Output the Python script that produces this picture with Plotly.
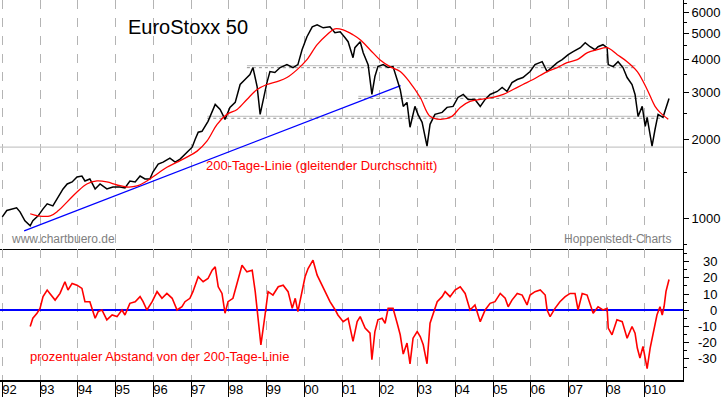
import plotly.graph_objects as go

# ---------------- data ----------------
price_dates = [1992.00, 1992.12, 1992.38, 1992.47, 1992.60, 1992.74, 1992.81, 1992.95, 1993.08, 1993.19,
               1993.34, 1993.48, 1993.61, 1993.72, 1993.85, 1993.98, 1994.11, 1994.19, 1994.32, 1994.46,
               1994.59, 1994.77, 1994.93, 1995.12, 1995.25, 1995.38, 1995.52, 1995.65, 1995.78, 1995.91,
               1995.99, 1996.13, 1996.26, 1996.44, 1996.58, 1996.71, 1996.89, 1997.03, 1997.11, 1997.19,
               1997.29, 1997.37, 1997.45, 1997.64, 1997.77, 1997.90, 1998.03, 1998.17, 1998.30, 1998.43,
               1998.56, 1998.64, 1998.75, 1998.83, 1998.91, 1999.01, 1999.09, 1999.22, 1999.36, 1999.54,
               1999.70, 1999.83, 1999.94, 2000.07, 2000.21, 2000.34, 2000.50, 2000.68, 2000.81, 2000.95,
               2001.08, 2001.16, 2001.29, 2001.34, 2001.48, 2001.56, 2001.69, 2001.79, 2001.87, 2001.95,
               2002.09, 2002.22, 2002.35, 2002.46, 2002.54, 2002.62, 2002.72, 2002.80, 2002.93, 2003.01,
               2003.12, 2003.25, 2003.33, 2003.46, 2003.65, 2003.78, 2003.94, 2004.07, 2004.21, 2004.34,
               2004.52, 2004.66, 2004.79, 2004.92, 2005.11, 2005.24, 2005.37, 2005.50, 2005.64, 2005.79,
               2005.98, 2006.11, 2006.30, 2006.43, 2006.56, 2006.70, 2006.83, 2006.99, 2007.12, 2007.31,
               2007.44, 2007.57, 2007.70, 2007.78, 2007.91, 2008.02, 2008.05, 2008.18, 2008.31, 2008.44,
               2008.55, 2008.68, 2008.76, 2008.84, 2008.95, 2009.03, 2009.08, 2009.21, 2009.29, 2009.37,
               2009.50, 2009.58, 2009.66]
price_values = [1017, 1075, 1100, 1062, 983, 941, 983, 1026, 1090, 1139,
                1119, 1210, 1297, 1354, 1378, 1438, 1451, 1390, 1414, 1297,
                1354, 1297, 1319, 1319, 1308, 1390, 1378, 1451, 1414, 1414,
                1502, 1610, 1638, 1696, 1638, 1681, 1786, 1865, 1999, 2124,
                2142, 2237, 2336, 2707, 2591, 2376, 2637, 2754, 3218, 3360,
                3509, 3729, 3162, 2481, 2826, 3273, 3602, 3571, 3729, 3827,
                3729, 3827, 4357, 4876, 5316, 5409, 5270, 5316, 5047, 5091,
                4834, 4670, 4064, 4433, 4670, 4245, 3827, 2951, 3449, 3761,
                3827, 3729, 3761, 3360, 3082, 2660, 2754, 2218, 2660, 2481,
                2316, 1881, 2276, 2481, 2525, 2637, 2660, 2875, 2951, 2826,
                2826, 2660, 2826, 2951, 3029, 3135, 3029, 3273, 3360, 3419,
                3602, 3827, 3926, 3602, 3729, 3894, 3995, 4172, 4282, 4433,
                4629, 4471, 4357, 4471, 4550, 4433, 3827, 3761, 3926, 3729,
                3419, 3218, 2951, 2439, 2660, 2237, 2418, 1881, 2180, 2481,
                2418, 2637, 2851]

ma_dates = [1992.74, 1992.95, 1993.27, 1993.48, 1993.72, 1993.98, 1994.24, 1994.51, 1994.77, 1995.04,
            1995.30, 1995.57, 1995.83, 1996.10, 1996.36, 1996.63, 1996.89, 1997.16, 1997.42, 1997.69,
            1997.95, 1998.22, 1998.48, 1998.75, 1999.01, 1999.28, 1999.54, 1999.81, 2000.07, 2000.34,
            2000.60, 2000.81, 2001.03, 2001.29, 2001.48, 2001.74, 2002.00, 2002.27, 2002.54, 2002.80,
            2003.07, 2003.33, 2003.60, 2003.91, 2004.13, 2004.39, 2004.66, 2005.00, 2005.27, 2005.53,
            2005.79, 2006.06, 2006.43, 2006.70, 2006.96, 2007.23, 2007.50, 2007.76, 2008.02, 2008.29,
            2008.55, 2008.82, 2009.08, 2009.29, 2009.42, 2009.64]
ma_values = [1045, 1026, 1026, 1072, 1159, 1263, 1354, 1390, 1378, 1342,
             1319, 1331, 1390, 1477, 1567, 1638, 1710, 1802, 1966, 2276,
             2481, 2591, 2826, 3082, 3218, 3302, 3419, 3663, 3995, 4550,
             4961, 5227, 5180, 4961, 4750, 4357, 3995, 3761, 3602, 3273,
             2875, 2439, 2376, 2439, 2637, 2777, 2826, 2875, 2951, 3082,
             3218, 3360, 3602, 3729, 3894, 3995, 4245, 4357, 4433, 4172,
             3926, 3602, 3082, 2660, 2525, 2376]

dev_dates = [1992.74, 1992.81, 1992.92, 1993.00, 1993.08, 1993.19, 1993.26, 1993.40, 1993.53, 1993.66,
             1993.74, 1993.85, 1993.98, 1994.11, 1994.19, 1994.32, 1994.46, 1994.54, 1994.64, 1994.77,
             1994.91, 1995.04, 1995.17, 1995.25, 1995.38, 1995.52, 1995.65, 1995.73, 1995.83, 1995.97,
             1996.10, 1996.23, 1996.36, 1996.50, 1996.63, 1996.76, 1996.84, 1996.97, 1997.05, 1997.19,
             1997.32, 1997.45, 1997.56, 1997.64, 1997.72, 1997.82, 1997.90, 1997.98, 1998.11, 1998.25,
             1998.35, 1998.48, 1998.62, 1998.70, 1998.75, 1998.85, 1998.96, 1999.04, 1999.17, 1999.31,
             1999.44, 1999.57, 1999.68, 1999.76, 1999.83, 1999.94, 2000.02, 2000.10, 2000.23, 2000.34,
             2000.42, 2000.55, 2000.68, 2000.82, 2000.89, 2001.03, 2001.16, 2001.29, 2001.40, 2001.48,
             2001.61, 2001.74, 2001.79, 2001.87, 2001.95, 2002.06, 2002.14, 2002.22, 2002.35, 2002.46,
             2002.54, 2002.62, 2002.72, 2002.80, 2002.88, 2002.99, 2003.07, 2003.15, 2003.25, 2003.33,
             2003.41, 2003.52, 2003.65, 2003.73, 2003.86, 2003.99, 2004.13, 2004.26, 2004.39, 2004.52,
             2004.66, 2004.79, 2004.92, 2005.05, 2005.19, 2005.32, 2005.40, 2005.50, 2005.64, 2005.77,
             2005.90, 2005.98, 2006.11, 2006.25, 2006.38, 2006.43, 2006.51, 2006.64, 2006.77, 2006.91,
             2007.04, 2007.17, 2007.25, 2007.36, 2007.49, 2007.57, 2007.65, 2007.78, 2007.91, 2008.02,
             2008.05, 2008.15, 2008.28, 2008.42, 2008.55, 2008.68, 2008.76, 2008.82, 2008.89, 2008.97,
             2009.08, 2009.16, 2009.24, 2009.34, 2009.42, 2009.48, 2009.53, 2009.58, 2009.66]
dev_values = [-10.0, -4.9, -1.8, 1.2, 8.4, 12.5, 10.4, 6.3, 10.4, 17.6,
              12.5, 16.6, 15.5, 13.5, 5.3, 5.3, -4.9, -0.8, 0.2, -5.9,
              -2.9, -3.9, 0.2, -2.9, 4.3, 5.3, 8.4, 5.3, 0.2, 5.3,
              11.5, 7.4, 10.4, 7.4, 0.2, 2.2, 5.3, 7.4, 11.5, 20.7,
              17.6, 19.6, 24.7, 26.8, 14.5, 10.4, -1.8, 5.3, 7.4, 19.6,
              27.8, 23.7, 24.7, 11.5, 0.2, -21.3, -2.9, 11.5, 9.4, 14.5,
              15.5, 11.5, 1.2, 7.4, -0.8, 11.5, 20.7, 25.8, 30.9, 21.7,
              17.6, 11.5, 5.3, 0.2, -2.9, -7.0, -4.9, -19.2, -7.0, -3.9,
              -11.0, -14.1, -30.5, -13.1, -5.9, -4.9, -8.0, 1.2, 1.2, -8.0,
              -15.1, -27.0, -20.2, -33.0, -17.2, -13.1, -16.2, -21.3, -33.0, -8.0,
              -2.9, 5.3, 8.4, 11.5, 8.4, 12.5, 14.5, 10.4, 0.2, 3.3,
              -7.0, 0.2, 4.3, 5.3, 10.4, 7.4, 2.2, 6.3, 10.4, 9.4,
              3.3, 9.4, 11.5, 12.5, 9.4, 0.2, -3.9, 1.2, 5.3, 8.4,
              10.4, 10.4, 0.2, 10.4, 9.4, 4.3, -1.8, 2.2, 0.2, 1.2,
              -11.0, -15.1, -5.9, -7.0, -17.2, -10.0, -14.1, -23.3, -29.4, -22.3,
              -36.0, -23.3, -13.1, -2.9, 2.2, -2.9, 2.5, 11.7, 19.0]

trend_dates = [1992.58, 2002.55]
trend_values = [901, 3188]

support_level_full = 1865
support_levels = [3790, 2900, 2440]
support_starts = [1998.48, 2001.43, 1997.43]
support_ends = [2008.77, 2009.10, 2009.42]

year_ticks = list(range(1992, 2010))
year_labels = ['92', '93', '94', '95', '96', '97', '98', '99', '00', '01',
               '02', '03', '04', '05', '06', '07', '08', '010']

price_ticks = [1000, 2000, 3000, 4000, 5000, 6000]
price_minor = [800, 1500, 2500, 3500, 4500, 5500, 6500]
dev_ticks = [30, 20, 10, 0, -10, -20, -30]
dev_minor = [35, 25, 15, 5, -5, -15, -25, -35]

X_RANGE = [1991.94, 2010.03]

FONT = "Liberation Sans, Arial, sans-serif"
RED = "#ff0000"
BLUE = "#0000ff"
GRID = "#b4b4b4"

fig = go.Figure()

# support lines (top panel)
fig.add_trace(go.Scatter(x=X_RANGE, y=[support_level_full] * 2, mode="lines",
                         line=dict(color="#c8c8c8", width=1.2), hoverinfo="skip", showlegend=False))
for lvl, s, e in zip(support_levels, support_starts, support_ends):
    fig.add_trace(go.Scatter(x=[s, e], y=[lvl, lvl], mode="lines",
                             line=dict(color="#c8c8c8", width=1.2), hoverinfo="skip", showlegend=False))
    fig.add_trace(go.Scatter(x=[s, e], y=[lvl * 0.983, lvl * 0.983], mode="lines",
                             line=dict(color="#909090", width=1, dash="dot"), hoverinfo="skip", showlegend=False))

# blue trend line
fig.add_trace(go.Scatter(x=trend_dates, y=trend_values, mode="lines",
                         line=dict(color=BLUE, width=1.3), hoverinfo="skip", showlegend=False))
# price
fig.add_trace(go.Scatter(x=price_dates, y=price_values, mode="lines",
                         line=dict(color="black", width=1.5), showlegend=False))
# 200-day line
fig.add_trace(go.Scatter(x=ma_dates, y=ma_values, mode="lines", line_shape="spline",
                         line=dict(color=RED, width=1.3), showlegend=False))
# deviation panel
fig.add_trace(go.Scatter(x=dev_dates, y=dev_values, mode="lines", xaxis="x2", yaxis="y2",
                         line=dict(color=RED, width=1.6), showlegend=False))
# dummy trace for the label axis
fig.add_trace(go.Scatter(x=[year_ticks[0]], y=[0], mode="markers", xaxis="x3", yaxis="y2",
                         marker=dict(opacity=0), hoverinfo="skip", showlegend=False))

split = 132 / 382

fig.update_layout(
    width=723, height=397,
    margin=dict(l=0, r=40, t=0, b=15),
    paper_bgcolor="white", plot_bgcolor="white",
    font=dict(family=FONT, size=13, color="black"),
    hovermode=False,
    xaxis=dict(domain=[0, 1], anchor="y", range=X_RANGE, tickvals=year_ticks,
               showticklabels=False, ticks="", showgrid=True, gridcolor=GRID, griddash="dash",
               gridwidth=1, showline=True, linecolor="black", linewidth=1.5, zeroline=False),
    yaxis=dict(domain=[split, 1], anchor="x", type="log", range=[2.887, 3.827], side="right",
               tickvals=price_ticks, ticktext=[str(v) for v in price_ticks],
               ticks="outside", ticklen=5, tickcolor="black", showgrid=False, zeroline=False,
               showline=True, linecolor="black", linewidth=1,
               minor=dict(tickvals=price_minor, ticks="outside", ticklen=3, tickcolor="black", showgrid=False),
               tickfont=dict(size=13)),
    xaxis2=dict(domain=[0, 1], anchor="y2", range=X_RANGE, tickvals=year_ticks,
                showticklabels=False, ticks="outside", ticklen=15, tickcolor="black",
                showgrid=True, gridcolor=GRID, griddash="dash", gridwidth=1,
                showline=True, linecolor="black", linewidth=1.5, zeroline=False),
    xaxis3=dict(overlaying="x2", anchor="y2", side="bottom", range=X_RANGE, tickvals=year_ticks,
                ticktext=year_labels, ticks="", ticklabelposition="outside right",
                showgrid=False, showline=False, zeroline=False, tickfont=dict(size=13)),
    yaxis2=dict(domain=[0, split], anchor="x2", range=[-43, 38], side="right",
                tickvals=dev_ticks, showticklabels=False, ticks="outside", ticklen=5,
                tickcolor="black", showgrid=False, zeroline=True, zerolinecolor=BLUE,
                zerolinewidth=2, showline=True, linecolor="black", linewidth=1,
                minor=dict(tickvals=dev_minor, ticks="outside", ticklen=3, tickcolor="black", showgrid=False)),
)

annotations = [
    dict(text="EuroStoxx 50", x=188 / 683, y=1 - 27.5 / 382, xref="paper", yref="paper",
         xanchor="center", yanchor="middle", showarrow=False, font=dict(size=20, color="black")),
    dict(text="200-Tage-Linie (gleitender Durchschnitt)", x=204 / 683, y=1 - 166.5 / 382,
         xref="paper", yref="paper", xanchor="left", yanchor="middle", showarrow=False,
         font=dict(size=13, color=RED)),
    dict(text="www.chartbuero.de", x=9 / 683, y=1 - 240 / 382, xref="paper", yref="paper",
         xanchor="left", yanchor="middle", showarrow=False, font=dict(size=12, color="#808080")),
    dict(text="Hoppenstedt-Charts", x=673 / 683, y=1 - 240 / 382, xref="paper", yref="paper",
         xanchor="right", yanchor="middle", showarrow=False, font=dict(size=12, color="#808080")),
    dict(text="prozentualer Abstand von der 200-Tage-Linie", x=28 / 683, y=1 - 358 / 382,
         xref="paper", yref="paper", xanchor="left", yanchor="middle", showarrow=False,
         font=dict(size=13, color=RED)),
]
for v in dev_ticks:
    annotations.append(dict(text=str(v), x=719 / 683, y=v, xref="paper", yref="y2",
                            xanchor="right", yanchor="middle", showarrow=False,
                            font=dict(size=13, color="black")))
fig.update_layout(annotations=annotations)

fig.write_html("out.html", config={"displayModeBar": False, "staticPlot": True},
               post_script="document.body.style.margin='0';document.body.style.overflow='hidden';")
